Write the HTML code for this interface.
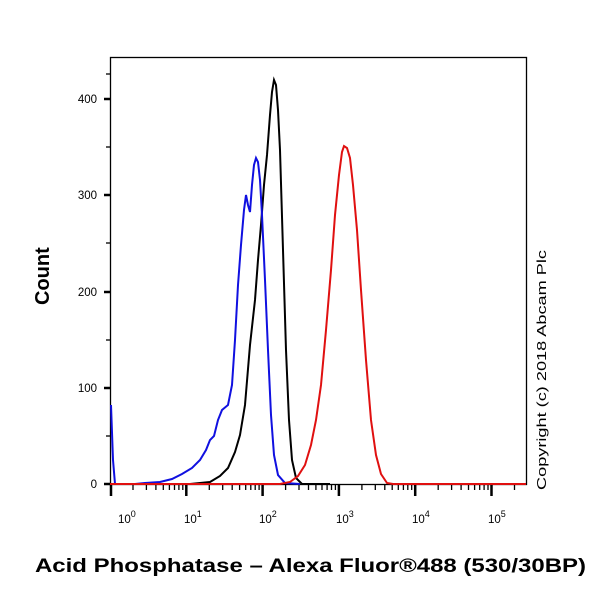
<!DOCTYPE html>
<html><head><style>body{margin:0;background:#fff}svg{display:block}</style></head><body>
<svg width="600" height="600" xmlns="http://www.w3.org/2000/svg" font-family="Liberation Sans, sans-serif">
<rect x="0" y="0" width="600" height="600" fill="#fff"/>
<rect x="110.5" y="57.5" width="416" height="427" fill="none" stroke="#000" stroke-width="1.3"/>
<g stroke="#000" stroke-width="1.3">
<line x1="104" y1="484" x2="110" y2="484" stroke-width="2.5"/>
<line x1="104" y1="388" x2="110" y2="388" stroke-width="2.5"/>
<line x1="104" y1="292" x2="110" y2="292" stroke-width="2.5"/>
<line x1="104" y1="195" x2="110" y2="195" stroke-width="2.5"/>
<line x1="104" y1="99" x2="110" y2="99" stroke-width="2.5"/>
<line x1="106" y1="436" x2="110" y2="436"/>
<line x1="106" y1="340" x2="110" y2="340"/>
<line x1="106" y1="243" x2="110" y2="243"/>
<line x1="106" y1="147" x2="110" y2="147"/>
<line x1="106" y1="74" x2="110" y2="74"/>
</g>
<g font-size="11.5" text-anchor="end" fill="#000">
<text x="97" y="488">0</text><text x="97" y="392">100</text><text x="97" y="296">200</text><text x="97" y="199">300</text><text x="97" y="103">400</text>
</g>
<path stroke="#000" stroke-width="2.5" fill="none" d="M111,484v12M186.3,484v12M262.6,484v12M338.9,484v12M415.2,484v12M491.5,484v12"/>
<path stroke="#000" stroke-width="1.3" fill="none" d="M133,484v6M146.4,484v6M155.9,484v6M163.3,484v6M169.4,484v6M174.5,484v6M178.9,484v6M182.8,484v6
M209.3,484v6M222.7,484v6M232.2,484v6M239.6,484v6M245.7,484v6M250.8,484v6M255.2,484v6M259.1,484v6
M285.6,484v6M299,484v6M308.5,484v6M315.9,484v6M322,484v6M327.1,484v6M331.5,484v6M335.4,484v6
M361.9,484v6M375.3,484v6M384.8,484v6M392.2,484v6M398.3,484v6M403.4,484v6M407.8,484v6M411.7,484v6
M438.2,484v6M451.6,484v6M461.1,484v6M468.5,484v6M474.6,484v6M479.7,484v6M484.1,484v6M488,484v6M514.5,484v6"/>
<g font-size="11.5" fill="#000">
<text x="118" y="523">10<tspan dy="-6" font-size="9">0</tspan></text>
<text x="184" y="523">10<tspan dy="-6" font-size="9">1</tspan></text>
<text x="259" y="523">10<tspan dy="-6" font-size="9">2</tspan></text>
<text x="336" y="523">10<tspan dy="-6" font-size="9">3</tspan></text>
<text x="412" y="523">10<tspan dy="-6" font-size="9">4</tspan></text>
<text x="488" y="523">10<tspan dy="-6" font-size="9">5</tspan></text>
</g>
<polyline fill="none" stroke="#000" stroke-width="2" points="190,484 210,482 220,476 228,468 235,452 240,435 245,405 250,345 255,300 258,260 261,225 264,185 267,155 270,115 272,92 274,80 276,85 278,110 280,150 283,250 286,350 289,420 292,460 296,478 302,484 330,484"/>
<polyline fill="none" stroke="#1010e0" stroke-width="2" points="111,405 113,460 115,484 135,484 145,483 160,482 172,479 182,474 192,468 200,460 206,450 210,440 214,436 218,420 222,410 228,405 232,385 235,340 238,285 241,245 244,210 246,195 248,205 250,212 252,185 254,165 256,158 258,162 260,180 262,215 265,280 268,350 271,415 274,455 278,475 285,483 300,484"/>
<polyline fill="none" stroke="#e01010" stroke-width="2" points="110,484 280,484 290,482 298,476 305,465 311,445 316,420 321,385 326,330 331,270 335,215 339,175 342,152 344,146 347,148 350,158 353,185 357,230 361,290 366,360 371,420 376,455 381,474 387,483 393,484 526,484"/>
<text x="0" y="0" font-size="20" font-weight="bold" transform="translate(49,305) rotate(-90)">Count</text>
<text x="0" y="0" font-size="12.5" transform="translate(546,490) rotate(-90)" textLength="240" lengthAdjust="spacingAndGlyphs">Copyright (c) 2018 Abcam Plc</text>
<text x="35" y="572" font-size="19" font-weight="bold" textLength="551" lengthAdjust="spacingAndGlyphs">Acid Phosphatase – Alexa Fluor®488 (530/30BP)</text>
</svg>
</body></html>
